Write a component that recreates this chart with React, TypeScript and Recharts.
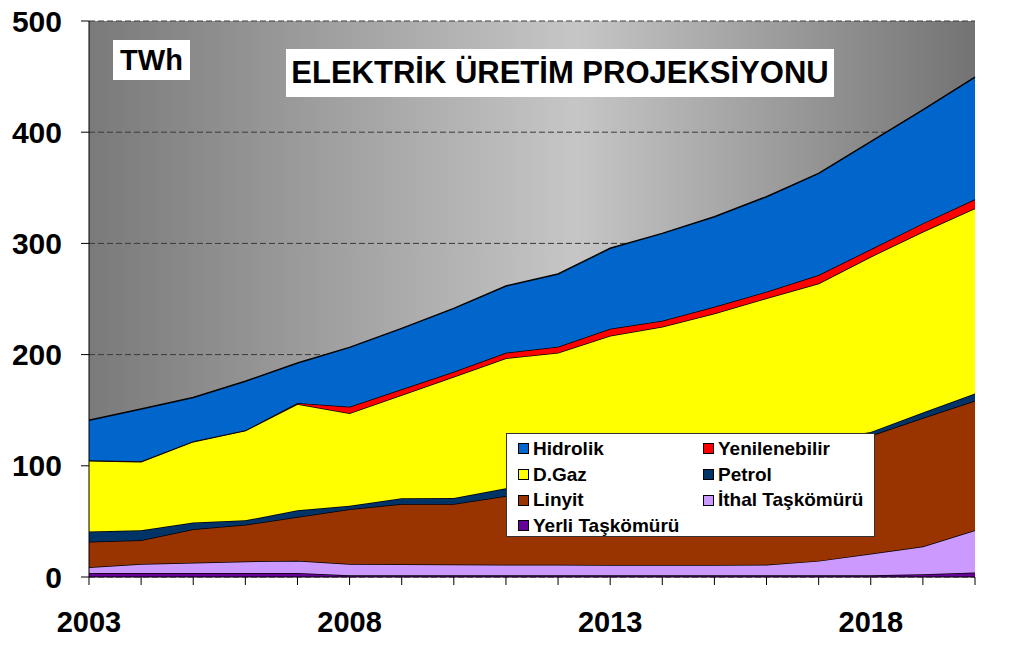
import { Area, AreaChart, CartesianGrid, XAxis, YAxis } from "recharts"

const years = [
  2003, 2004, 2005, 2006, 2007, 2008, 2009, 2010, 2011, 2012, 2013, 2014, 2015,
  2016, 2017, 2018, 2019, 2020,
]
const yerli = [3.5, 3.5, 3.5, 3.5, 3.5, 1.5, 1.5, 1.5, 1.5, 1.5, 1.5, 1.5, 1.5, 1.5, 1.5, 1.5, 2.5, 4]
const ithal = [5.2, 8.1, 9.4, 10.5, 11.2, 10.2, 10, 9.8, 9.6, 9.5, 9.3, 9.3, 9.3, 9.5, 13, 19.5, 25, 38]
const linyit = [23.1, 21.4, 30.1, 33, 39.3, 49.3, 54.1, 54.3, 61.7, 67, 74.2, 84.2, 92.2, 99, 103.5, 106, 115.5, 116.5]
const petrol = [9.2, 9, 6, 4, 6, 3, 5.2, 5.4, 7, 6, 6, 5, 5, 5, 5, 3.5, 5, 6.5]
const dgaz = [63.6, 61.7, 72.7, 80.6, 95.6, 83.3, 92.9, 109.1, 116.9, 117.7, 126, 125, 129, 135.6, 141, 157.5, 162.5, 166.5]
const yenilenebilir = [0.3, 0.3, 0.3, 0.3, 0.8, 5.7, 5.1, 4.5, 5, 5.4, 6.3, 5.5, 6, 6, 7.6, 6.7, 7.5, 8.2]
const hidrolik = [36.1, 47, 39.5, 44.1, 36.1, 53.5, 54.8, 57, 60, 65.4, 72.3, 78.5, 81, 85.4, 91.4, 96.8, 102, 109.8]

const yTicks = [0, 100, 200, 300, 400, 500]

// bottom of the stack first
const series = [
  { key: "yerli", name: "Yerli Taşkömürü", color: "#660099" },
  { key: "ithal", name: "İthal Taşkömürü", color: "#CC99FF" },
  { key: "linyit", name: "Linyit", color: "#993300" },
  { key: "petrol", name: "Petrol", color: "#003366" },
  { key: "dgaz", name: "D.Gaz", color: "#FFFF00" },
  { key: "yenilenebilir", name: "Yenilenebilir", color: "#FF0000" },
  { key: "hidrolik", name: "Hidrolik", color: "#0066CC" },
]

const legendOrder = [
  "hidrolik",
  "yenilenebilir",
  "dgaz",
  "petrol",
  "linyit",
  "ithal",
  "yerli",
]

const data = years.map((year, i) => ({
  year,
  yerli: yerli[i],
  ithal: ithal[i],
  linyit: linyit[i],
  petrol: petrol[i],
  dgaz: dgaz[i],
  yenilenebilir: yenilenebilir[i],
  hidrolik: hidrolik[i],
}))

const FONT = "'Liberation Sans', Arial, sans-serif"

export default function App() {
  return (
    <div
      style={{
        position: "absolute",
        left: 0,
        top: 0,
        width: 1023,
        height: 651,
        background: "#fff",
        fontFamily: FONT,
      }}
    >
      <AreaChart
        width={1023}
        height={651}
        data={data}
        margin={{ top: 21, right: 48, bottom: 0, left: 0 }}
      >
        <defs>
          <linearGradient id="bg" x1="0" y1="0" x2="1" y2="0">
            <stop offset="0%" stopColor="#7a7a7a" />
            <stop offset="55%" stopColor="#c6c6c6" />
            <stop offset="100%" stopColor="#737373" />
          </linearGradient>
        </defs>
        <CartesianGrid
          vertical={false}
          fill="url(#bg)"
          stroke="#3a3a3a"
          strokeDasharray="6 3"
        />
        <XAxis
          dataKey="year"
          interval={0}
          height={74}
          stroke="#000"
          tickSize={8}
          tickMargin={26}
          tickFormatter={(v) => ((Number(v) - 2003) % 5 === 0 ? String(v) : "")}
          tick={{ fill: "#000", fontSize: 29, fontWeight: 700, fontFamily: FONT }}
        />
        <YAxis
          domain={[0, 500]}
          ticks={yTicks}
          width={89}
          stroke="#000"
          tickSize={8}
          tickMargin={19}
          tick={{ fill: "#000", fontSize: 30, fontWeight: 700, fontFamily: FONT }}
        />
        {series.map((s) => (
          <Area
            key={s.key}
            type="linear"
            dataKey={s.key}
            name={s.name}
            stackId="1"
            fill={s.color}
            fillOpacity={1}
            stroke="#000"
            strokeWidth={1.5}
            isAnimationActive={false}
          />
        ))}
      </AreaChart>

      <div
        style={{
          position: "absolute",
          left: 113,
          top: 40,
          width: 77,
          height: 40,
          background: "#fff",
          fontSize: 29,
          fontWeight: 700,
          lineHeight: "40px",
          textAlign: "center",
        }}
      >
        TWh
      </div>

      <div
        style={{
          position: "absolute",
          left: 286,
          top: 49,
          width: 548,
          height: 48,
          background: "#fff",
          fontSize: 31,
          fontWeight: 700,
          lineHeight: "48px",
          textAlign: "center",
          whiteSpace: "nowrap",
        }}
      >
        ELEKTRİK ÜRETİM PROJEKSİYONU
      </div>

      <div
        style={{
          position: "absolute",
          left: 506,
          top: 433,
          width: 369,
          height: 104,
          background: "#fff",
          border: "1px solid #333",
          boxSizing: "border-box",
          display: "grid",
          gridTemplateColumns: "185px 180px",
          gridAutoRows: "25.7px",
          paddingTop: 2,
          paddingLeft: 11,
        }}
      >
        {legendOrder.map((k) => {
          const s = series.find((x) => x.key === k)!
          return (
            <div
              key={k}
              style={{
                display: "flex",
                alignItems: "center",
                fontSize: 19,
                fontWeight: 700,
                whiteSpace: "nowrap",
              }}
            >
              <span
                style={{
                  display: "inline-block",
                  width: 9,
                  height: 9,
                  background: s.color,
                  border: "1px solid #000",
                  marginRight: 4,
                }}
              />
              {s.name}
            </div>
          )
        })}
      </div>
    </div>
  )
}
